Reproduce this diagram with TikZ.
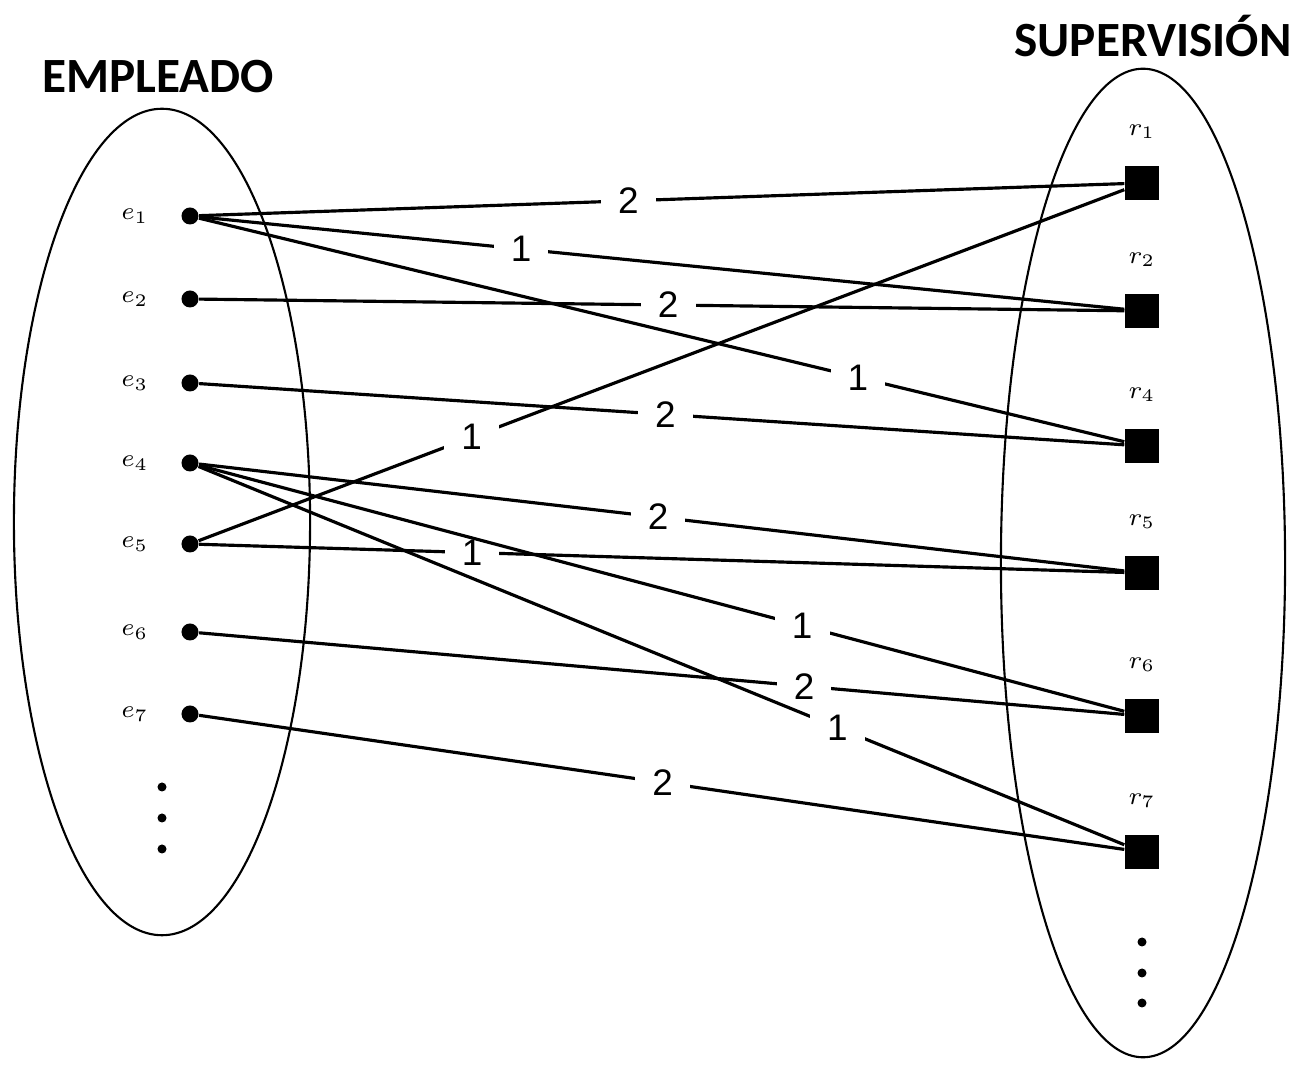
\documentclass[tikz,border=0pt]{standalone}
\usepackage{fontspec}
\setmainfont{Liberation Sans}
\newfontfamily\titlefont{Carlito}
\tikzstyle{emp}=[circle,fill=black,inner sep=0pt,minimum size=0.17cm]
\tikzstyle{sup}=[rectangle,fill=black,inner sep=0pt,minimum size=0.34cm]
\tikzstyle{edge} = [draw,line width=0.9pt]
\tikzstyle{peso} = [fill=white,inner xsep=0.17cm,inner ysep=1pt,font=\fontsize{10.5}{12}\selectfont]
\tikzstyle{titulo} = [font=\titlefont\bfseries\fontsize{14}{16}\selectfont]

\begin{document}
\begin{tikzpicture}[x=0.01cm,y=-0.01cm]
  \useasboundingbox (0,0) rectangle (1294,1068);

  % the two sets
  \draw[line width=0.6pt] (162,522) ellipse [x radius=1.48cm, y radius=4.13cm];
  \draw[line width=0.6pt] (1143,563) ellipse [x radius=1.42cm, y radius=4.94cm];
  \node[titulo] (templeado) at (158,77) {EMPLEADO};
  \node[titulo] (tsuperv) at (1153,36) {SUPERVISIÓN};

  % employees, round nodes
  \foreach \pos/\name/\id in {
    {(190,216)/1/e1},
    {(190,299)/2/e2},
    {(190,383)/3/e3},
    {(190,463)/4/e4},
    {(190,544)/5/e5},
    {(190,632)/6/e6},
    {(190,714)/7/e7}}
    \node[emp,label={[label distance=0.2cm,font=\scriptsize]left:$e_\name$}] (\id) at \pos {};

  % supervisions, square nodes (no r3)
  \foreach \pos/\name/\id in {
    {(1142,183)/1/r1},
    {(1142,311)/2/r2},
    {(1142,446)/4/r4},
    {(1142,573)/5/r5},
    {(1142,716)/6/r6},
    {(1142,852)/7/r7}}
    \node[sup,label={[label distance=0.14cm,font=\scriptsize]above:$r_\name$}] (\id) at \pos {};

  % more elements
  \foreach \y in {787,818,849} \fill (162,\y) circle (0.045cm);
  \foreach \y in {942,973,1003} \fill (1142,\y) circle (0.045cm);

  % links with their weights
  \path[edge] (e1) -- node[peso,pos=0.464] {2} (r1);
  \path[edge] (e1) -- node[peso,pos=0.348] {1} (r2);
  \path[edge] (e1) -- node[peso,pos=0.712] {1} (r4);
  \path[edge] (e2) -- node[peso,pos=0.507] {2} (r2);
  \path[edge] (e3) -- node[peso,pos=0.504] {2} (r4);
  \path[edge] (e5) -- node[peso,pos=0.295] {1} (r1);
  \path[edge] (e4) -- node[peso,pos=0.496] {2} (r5);
  \path[edge] (e5) -- node[peso,pos=0.295] {1} (r5);
  \path[edge] (e4) -- node[peso,pos=0.652] {1} (r6);
  \path[edge] (e6) -- node[peso,pos=0.654] {2} (r6);
  \path[edge] (e4) -- node[peso,pos=0.69] {1} (r7);
  \path[edge] (e7) -- node[peso,pos=0.501] {2} (r7);
\end{tikzpicture}
\end{document}
